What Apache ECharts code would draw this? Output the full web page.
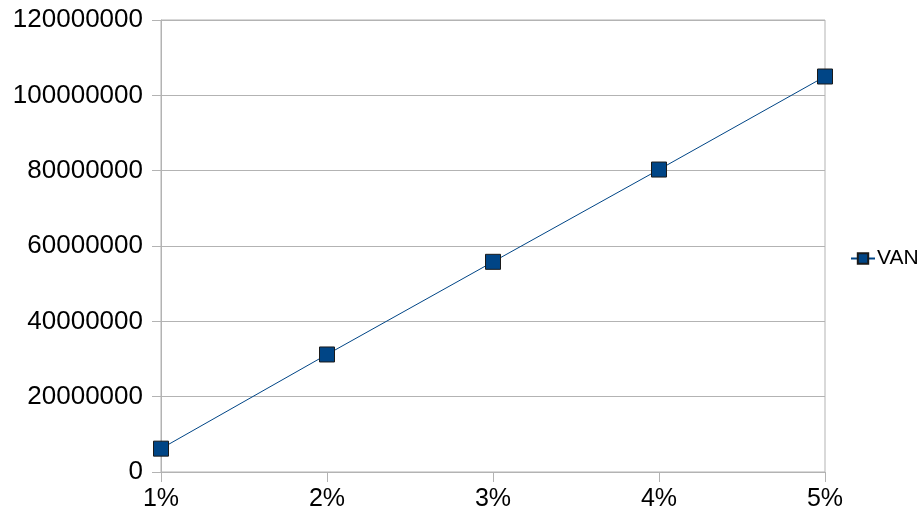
<!DOCTYPE html>
<html>
<head>
<meta charset="utf-8">
<script src="https://cdn.jsdelivr.net/npm/echarts@6/dist/echarts.min.js"></script>
<style>
  html, body { margin: 0; padding: 0; background: #fff; }
  #chart { width: 923px; height: 517px; }
</style>
</head>
<body>
<div id="chart"></div>
<script>
// Discount rates on the horizontal axis
const rates = ['1%', '2%', '3%', '4%', '5%'];
// VAN value for each rate
const vanValues = [6200000, 31200000, 55800000, 80300000, 105000000];
// Vertical axis range and step
const yMin = 0;
const yMax = 120000000;
const yStep = 20000000;

const gridGray = '#b3b3b3';
const font = 'Liberation Sans, Arial, sans-serif';

const chart = echarts.init(document.getElementById('chart'), null, { renderer: 'canvas' });
chart.setOption({
  animation: false,
  backgroundColor: '#fff',
  grid: {
    left: 161, right: 98, top: 20, bottom: 45,
    containLabel: false,
    outerBoundsMode: 'none',
    show: true, borderColor: gridGray, borderWidth: 1, backgroundColor: 'transparent'
  },
  legend: {
    show: true,
    orient: 'vertical',
    left: 845,
    top: 'middle',
    itemWidth: 24,
    itemHeight: 13,
    itemGap: 4,
    textStyle: { fontFamily: font, fontSize: 21, color: '#000', padding: [0, 0, 0, -3] },
    data: ['VAN']
  },
  xAxis: {
    type: 'category',
    data: rates,
    boundaryGap: false,
    axisLine: { show: true, lineStyle: { color: gridGray, width: 1 } },
    axisTick: { show: true, length: 10, lineStyle: { color: gridGray } },
    axisLabel: { fontFamily: font, fontSize: 25, color: '#000', margin: 15 },
    splitLine: { show: false }
  },
  yAxis: {
    type: 'value',
    min: yMin, max: yMax, interval: yStep,
    axisLine: { show: true, lineStyle: { color: gridGray, width: 1 } },
    axisTick: { show: true, length: 9, lineStyle: { color: gridGray } },
    axisLabel: {
      fontFamily: font, fontSize: 26, color: '#000', margin: 18,
      formatter: (v) => String(v)
    },
    splitLine: { show: true, lineStyle: { color: gridGray, width: 1 } }
  },
  series: [{
    name: 'VAN',
    type: 'line',
    data: vanValues,
    symbol: 'rect',
    symbolSize: 15,
    lineStyle: { color: '#004586', width: 1 },
    itemStyle: { color: '#004586', borderColor: '#1a1a1a', borderWidth: 1 },
    emphasis: { disabled: true }
  }]
});
</script>
</body>
</html>
